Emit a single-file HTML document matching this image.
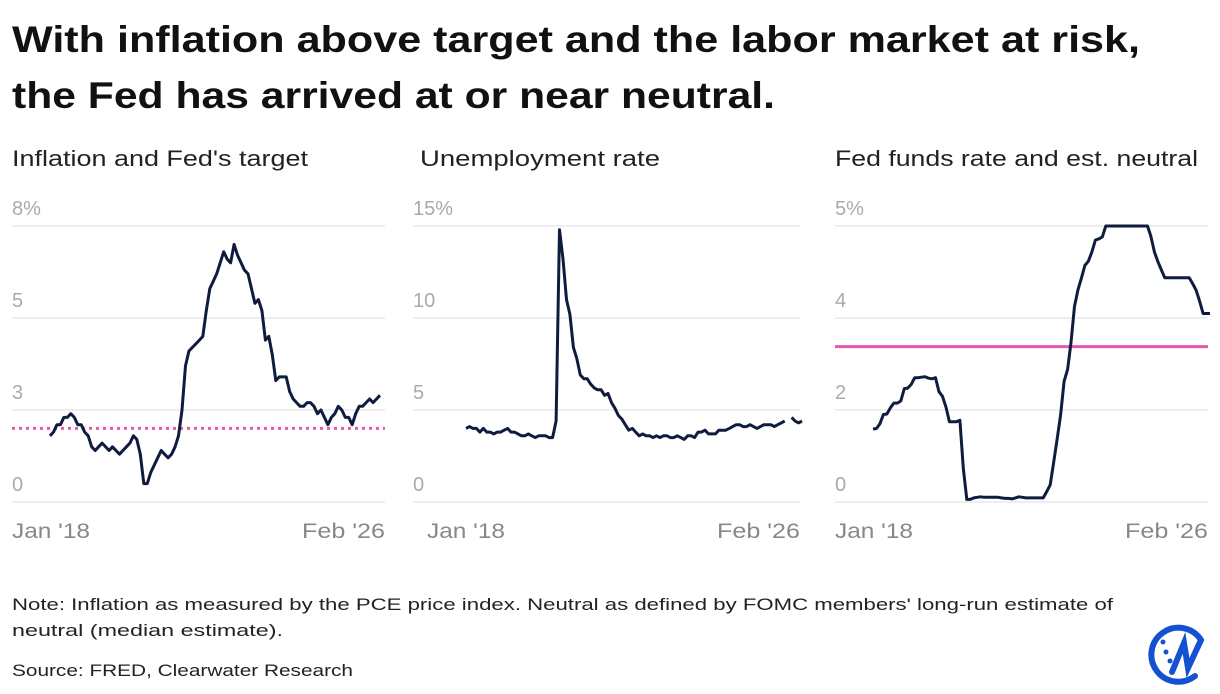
<!DOCTYPE html>
<html><head><meta charset="utf-8"><style>
body{margin:0;background:#fff;width:1220px;height:694px;overflow:hidden}
svg{display:block}
text{font-family:"Liberation Sans",sans-serif}
</style></head><body>
<svg id="c" width="1220" height="694">
<text x="12" y="52" font-size="37" font-weight="bold" fill="#111" textLength="1128" lengthAdjust="spacingAndGlyphs">With inflation above target and the labor market at risk,</text>
<text x="12" y="108" font-size="37" font-weight="bold" fill="#111" textLength="763" lengthAdjust="spacingAndGlyphs">the Fed has arrived at or near neutral.</text>
<text x="12" y="166" font-size="22" fill="#222" textLength="296" lengthAdjust="spacingAndGlyphs">Inflation and Fed's target</text>
<text x="420" y="166" font-size="22" fill="#222" textLength="240" lengthAdjust="spacingAndGlyphs">Unemployment rate</text>
<text x="835" y="166" font-size="22" fill="#222" textLength="363" lengthAdjust="spacingAndGlyphs">Fed funds rate and est. neutral</text>
<text x="12" y="610" font-size="17" fill="#222" textLength="1101" lengthAdjust="spacingAndGlyphs">Note: Inflation as measured by the PCE price index. Neutral as defined by FOMC members' long-run estimate of</text>
<text x="12" y="636" font-size="17" fill="#222" textLength="271" lengthAdjust="spacingAndGlyphs">neutral (median estimate).</text>
<text x="12" y="676" font-size="17" fill="#222" textLength="341" lengthAdjust="spacingAndGlyphs">Source: FRED, Clearwater Research</text>
<g fill="none" stroke="#1450d2" stroke-width="6" stroke-linecap="round">
<path d="M1201 640 A27 27 0 1 0 1195 676"/>
<path d="M1172 672 L1184 643 L1188 668 L1201 640"/>
<circle cx="1163" cy="642" r="2.5" fill="#1450d2" stroke="none"/>
<circle cx="1166" cy="652" r="2.5" fill="#1450d2" stroke="none"/>
<circle cx="1170" cy="661" r="2.5" fill="#1450d2" stroke="none"/>
</g>
</svg>
<script>
const pceValues=[1.8,1.9,2.1,2.1,2.3,2.3,2.4,2.3,2.1,2.1,1.9,1.8,1.5,1.4,1.5,1.6,1.5,1.4,1.5,1.4,1.3,1.4,1.5,1.6,1.8,1.7,1.3,0.5,0.5,0.8,1.0,1.2,1.4,1.3,1.2,1.3,1.5,1.8,2.5,3.7,4.1,4.2,4.3,4.4,4.5,5.2,5.8,6.0,6.2,6.5,6.8,6.6,6.5,7.0,6.7,6.5,6.3,6.2,5.8,5.4,5.5,5.2,4.4,4.5,4.0,3.3,3.4,3.4,3.4,3.0,2.8,2.7,2.6,2.6,2.7,2.7,2.6,2.4,2.5,2.3,2.1,2.3,2.4,2.6,2.5,2.3,2.3,2.1,2.4,2.6,2.6,2.7,2.8,2.7,2.8,2.9];
const unrateValues=[4.0,4.1,4.0,4.0,3.8,4.0,3.8,3.8,3.7,3.8,3.8,3.9,4.0,3.8,3.8,3.7,3.6,3.6,3.7,3.6,3.5,3.6,3.6,3.6,3.5,3.5,4.4,14.8,13.2,11.0,10.2,8.4,7.8,6.9,6.7,6.7,6.4,6.2,6.1,6.1,5.8,5.9,5.4,5.1,4.7,4.5,4.2,3.9,4.0,3.8,3.6,3.7,3.6,3.6,3.5,3.6,3.5,3.6,3.6,3.5,3.5,3.6,3.5,3.4,3.6,3.6,3.5,3.8,3.8,3.9,3.7,3.7,3.7,3.9,3.9,3.9,4.0,4.1,4.2,4.2,4.1,4.1,4.2,4.1,4.0,4.1,4.2,4.2,4.2,4.1,4.2,4.3,4.4,null,4.6,4.4,4.3,4.4];
const fedFundsValues=[1.41,1.42,1.51,1.69,1.70,1.82,1.91,1.91,1.95,2.19,2.20,2.27,2.40,2.40,2.41,2.42,2.39,2.38,2.40,2.13,2.04,1.83,1.55,1.55,1.55,1.58,0.65,0.05,0.05,0.08,0.09,0.10,0.09,0.09,0.09,0.09,0.09,0.08,0.07,0.07,0.06,0.08,0.10,0.09,0.08,0.08,0.08,0.08,0.08,0.08,0.20,0.33,0.77,1.21,1.68,2.33,2.56,3.08,3.78,4.10,4.33,4.57,4.65,4.83,5.06,5.08,5.12,5.33,5.33,5.33,5.33,5.33,5.33,5.33,5.33,5.33,5.33,5.33,5.33,5.33,5.13,4.83,4.64,4.48,4.33,4.33,4.33,4.33,4.33,4.33,4.33,4.33,4.22,4.09,3.88,3.64,3.64,3.64];
const targetRate=[2];
const neutralRate=[3.0];
const xLabels=["Jan '18","Feb '26"];
const panel1Ticks=[0,2.5,5,7.5], panel1TickLabels=["0","3","5","8%"];
const panel2Ticks=[0,5,10,15], panel2TickLabels=["0","5","10","15%"];
const panel3Ticks=[0,1.777,3.553,5.33], panel3TickLabels=["0","2","4","5%"];

const svg=document.getElementById('c');const NS='http://www.w3.org/2000/svg';
function mk(t,a){const e=document.createElementNS(NS,t);for(const k in a)e.setAttribute(k,a[k]);svg.appendChild(e);return e;}
function panel(id,gx0,gx1,lx0,lx1,jx,ymax,ticks,labels,vals){
  const y=v=>502-v/ymax*276;
  const x=i=>lx0+i*(lx1-lx0)/(vals.length-1);
  ticks.forEach((t,k)=>{
    const g=mk('line',{x1:gx0,x2:gx1,y1:y(t),y2:y(t),stroke:'#ddd','stroke-width':1});
    
    
    const tx=mk('text',{x:gx0,y:y(t)-11,'font-size':20,fill:'#aaa'});tx.textContent=labels[k];
    
    
  });
  const a=mk('text',{x:jx,y:538,'font-size':21,fill:'#888',textLength:78,lengthAdjust:'spacingAndGlyphs'});a.textContent=xLabels[0];
  
  
  const b=mk('text',{x:gx1-83,y:538,'font-size':21,fill:'#888',textLength:83,lengthAdjust:'spacingAndGlyphs'});b.textContent=xLabels[1];
  
  
  let d='',pen=false;
  vals.forEach((v,i)=>{if(v==null){pen=false;return;}d+=(pen?'L':'M')+x(i).toFixed(1)+' '+y(v).toFixed(1);pen=true;});
  return {y,line:()=>{const p=mk('path',{d,fill:'none',stroke:'#0f1c3f','stroke-width':3,'stroke-linejoin':'round'});
    
    }};
}
const p1=panel('panel1',12,385,50,380,12,7.5,panel1Ticks,panel1TickLabels,pceValues);
const t=mk('line',{x1:12,x2:385,y1:p1.y(targetRate[0]),y2:p1.y(targetRate[0]),stroke:'#e45aa8','stroke-width':3,'stroke-dasharray':'3 4'});


p1.line();
const p2=panel('panel2',413,800,466,802,427,15,panel2Ticks,panel2TickLabels,unrateValues);p2.line();
const p3=panel('panel3',835,1208,873,1210,835,5.33,panel3Ticks,panel3TickLabels,fedFundsValues);
const n=mk('line',{x1:835,x2:1208,y1:p3.y(neutralRate[0]),y2:p3.y(neutralRate[0]),stroke:'#e45aa8','stroke-width':3});


p3.line();
</script>
</body></html>
